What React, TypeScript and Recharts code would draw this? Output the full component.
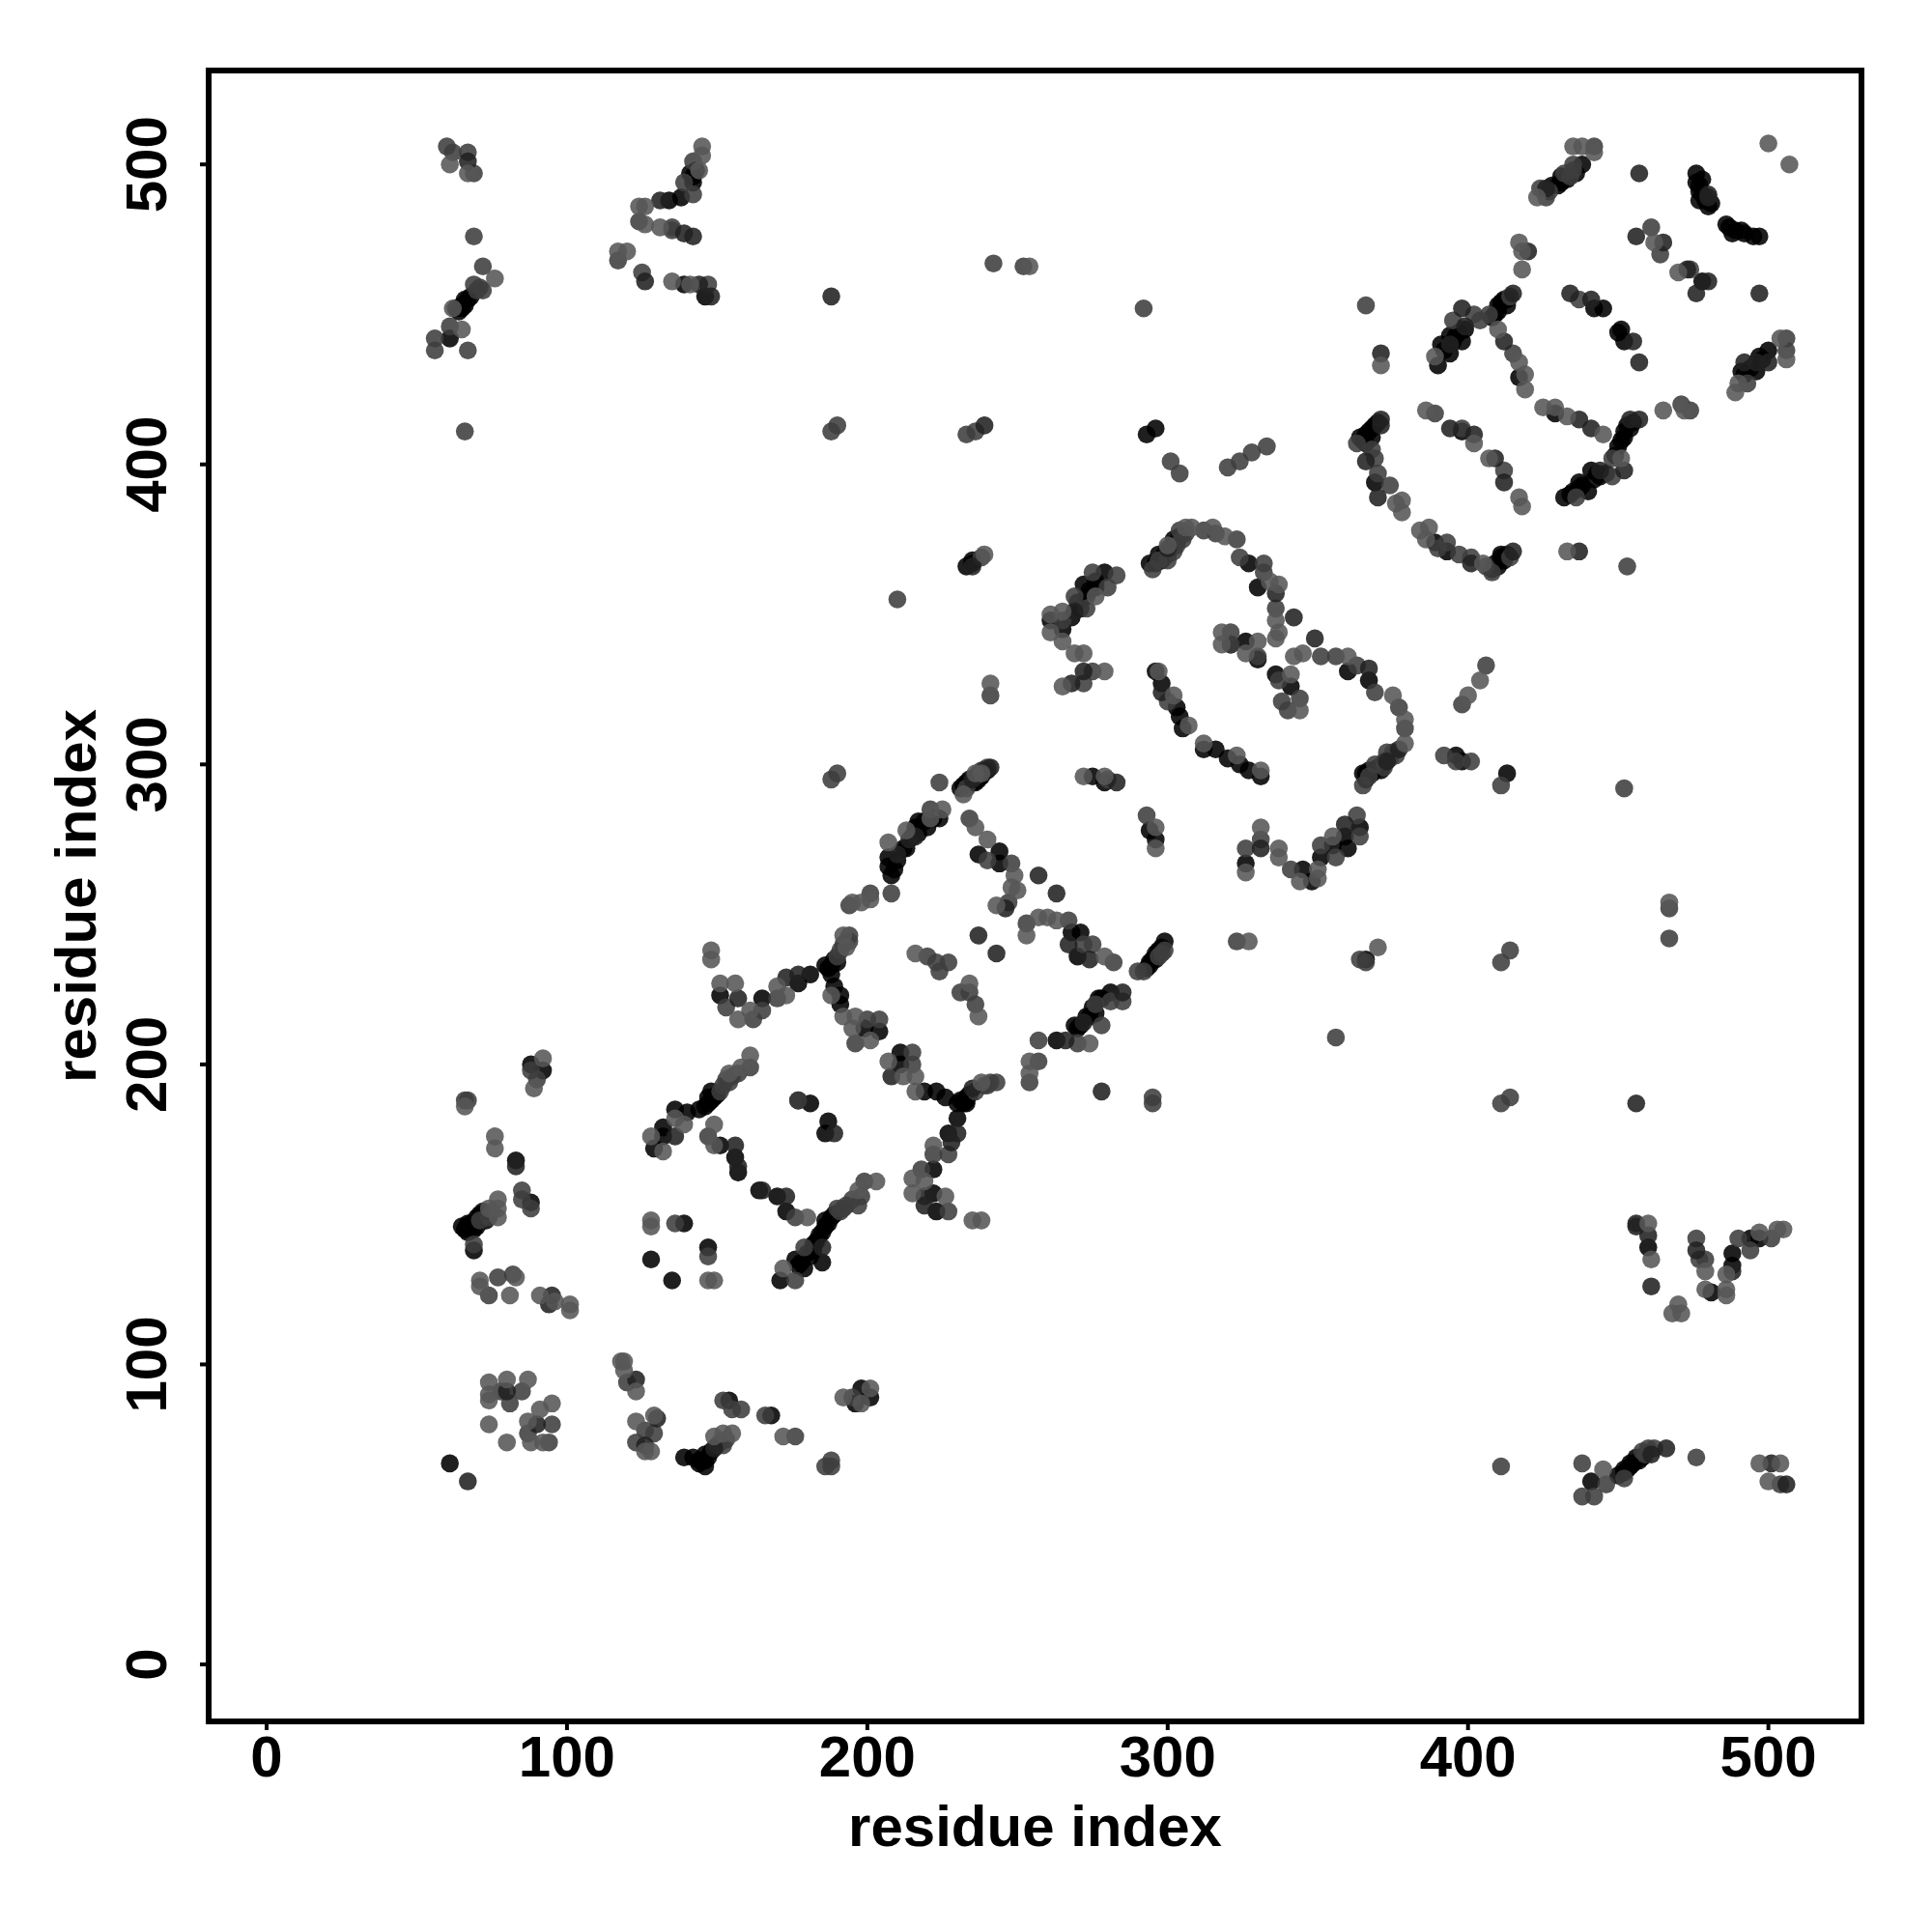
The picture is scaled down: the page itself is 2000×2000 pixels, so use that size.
import { Label, ReferenceArea, Scatter, ScatterChart, XAxis, YAxis } from 'recharts';

// contact pairs [residue x, residue y], grouped by grey level
type Pair = [number, number];

const lightPairs: Pair[] = [
  [232,290],[236,297],[238,297],[272,296],[279,296],[213,278],[207,274],[221,282],[225,285],[236,279],[240,275],[249,263],[248,259],[250,258],[243,253],[201,255],[198,254],[195,254],[257,249],[260,249],[263,248],[253,243],[279,236],[216,237],[234,227],[237,216],[148,238],[148,235],[151,227],[156,227],[157,215],[161,218],[170,226],[173,223],[193,239],[192,243],[188,223],[192,216],[196,216],[195,212],[201,208],[207,201],[216,196],[212,196],[216,191],[238,194],[274,207],[254,201],[254,197],[222,173],[215,162],[219,161],[215,157],[226,156],[235,148],[238,148],
  [161,203],[158,199],[154,197],[136,182],[139,180],[128,176],[132,171],[149,180],[149,173],[180,149],[203,161],[197,158],[172,132],[128,148],[128,146],[147,128],[149,128],[92,202],[89,192],[66,186],[76,176],[76,172],[77,155],[77,152],[74,152],[77,149],[71,128],[71,126],[83,129],[81,123],[91,123],[96,121],[101,120],[101,118],[119,101],[118,101],[119,98],[123,91],[129,83],[123,81],[128,71],[126,71],[155,77],[152,77],[149,76],[172,76],[201,92],[192,89],[198,87],[74,94],[80,95],[87,95],[74,90],[74,88],[95,87],[91,85],[87,81],[74,80],[88,74],[80,74],[92,74],
  [61,500],[67,497],[76,462],[62,452],[65,445],[145,506],[145,503],[144,498],[124,486],[126,486],[126,480],[131,479],[117,471],[120,471],[135,461],[141,460],
  [435,506],[438,506],[442,504],[423,489],[500,507],[507,500],[462,474],[470,464],[504,442],[506,435],[490,427],[489,424],[389,436],[371,433],[417,474],[418,471],[418,465],[410,445],[417,434],[419,430],[419,425],[386,418],[402,407],[407,402],[417,389],[418,386],[425,419],[429,419],[433,416],[445,410],[465,418],[472,418],[451,402],[433,371],[378,388],[378,384],[376,387],[384,378],[387,379],[386,375],[405,367],
  [239,370],[276,356],[265,351],[261,350],[261,344],[265,341],[269,337],[272,337],[279,331],[265,326],[241,327],[306,379],[308,379],[315,379],[319,376],[300,373],[334,361],[337,360],[336,348],[337,344],[336,342],[318,344],[318,340],[330,341],[326,337],[297,331],[302,323],[307,313],[312,307],[323,303],[331,298],[342,336],[345,337],[360,336],[375,323],[379,315],[379,307],[341,330],[344,318],[326,264],[331,279],[337,272],[337,269],[344,261],[350,262],[350,265],[355,276],[327,241],[370,239],[296,272],[296,279],[400,323],[404,328],[254,466],[467,254],
  [460,147],[461,135],[470,120],[468,117],[471,117],[479,131],[479,125],[486,125],[486,123],[486,130],[497,144],[505,145],[503,145],[445,65],[497,67],[504,67],[500,61],
];

const midPairs: Pair[] = [
  [188,295],[190,297],[224,294],[236,296],[237,297],[280,295],[221,285],[208,257],[201,257],[194,253],[234,282],[247,254],[240,268],[248,267],[253,247],[267,248],[272,240],[275,240],[282,234],[220,236],[223,234],[227,234],[224,231],[231,224],[234,224],[236,220],[153,219],[162,215],[165,218],[170,222],[190,236],[194,243],[200,215],[204,215],[196,207],[215,204],[215,200],[243,194],[257,208],[270,207],[278,213],[281,221],[285,221],[257,201],[254,194],[295,189],[295,187],[227,170],[222,170],[218,165],[227,151],
  [161,199],[154,194],[151,191],[176,149],[199,161],[197,153],[193,153],[191,151],[179,139],[176,128],[177,188],[136,147],[147,136],[88,198],[90,195],[67,188],[66,188],[85,158],[85,155],[88,152],[71,148],[69,140],[74,123],[77,129],[82,130],[120,94],[126,78],[129,77],[123,74],[152,88],[155,85],[158,85],[166,83],[176,76],[152,73],[188,68],[186,66],[188,66],[195,89],[78,91],[85,91],[81,87],[95,80],[87,77],[94,74],[147,176],
  [60,506],[62,504],[67,504],[69,497],[69,476],[72,466],[72,458],[69,460],[61,446],[56,442],[56,438],[67,438],[66,411],[142,501],[139,494],[142,490],[135,479],[135,478],[124,481],[117,468],[125,464],[147,460],[188,411],[190,413],
  [442,506],[435,500],[434,496],[424,492],[426,489],[461,479],[464,470],[474,465],[506,442],[506,438],[493,427],[407,450],[402,450],[395,448],[415,437],[437,455],[389,417],[398,412],[412,398],[471,420],[474,418],[448,402],[448,396],[436,389],[453,366],[366,453],[363,407],[368,405],[369,402],[370,397],[374,393],[393,374],[390,372],[397,370],[401,369],[408,364],
  [283,363],[275,364],[280,359],[269,356],[273,352],[265,348],[275,331],[272,327],[241,323],[295,365],[300,368],[303,373],[312,378],[316,377],[323,375],[324,369],[332,367],[332,364],[336,352],[321,344],[321,340],[330,336],[300,321],[337,328],[344,322],[338,321],[340,318],[351,336],[356,336],[363,333],[369,324],[377,319],[379,312],[373,304],[369,300],[365,293],[326,272],[331,275],[341,265],[351,273],[356,269],[364,276],[363,283],[323,241],[364,235],[293,283],[290,231],
  [392,303],[396,301],[401,301],[398,320],[406,333],[411,293],[366,234],[411,234],[414,238],[411,187],[414,189],[467,242],[467,252],[452,292],[242,467],[252,466],[292,452],[233,410],[236,411],[210,355],[356,209],[301,401],[304,397],[320,399],[324,401],[328,404],[333,406],[238,369],
  [476,142],[479,135],[477,135],[490,142],[494,138],[501,142],[411,66],[438,67],[438,56],[442,56],[446,60],[452,62],[458,71],[476,69],[504,60],
  // denser stretches of the bands
  [238,298],[240,299],[233,292],[297,368],[302,371],[305,375],[306,377],[304,378],[298,237],[299,238],[297,236],[292,231],[372,301],[374,302],[375,304],[376,303],[367,296],[372,299],[414,456],[404,448],[414,369],[406,366],[152,193],[155,196],[157,197],[153,195],[190,152],[192,152],[195,155],[198,156],[236,191],[239,193],[240,193],[241,194],[191,238],[192,240],[193,241],[194,241],[276,220],[427,491],[432,497],[435,498],[459,70],[460,72],[462,72],[150,73],[151,74],[153,75],[70,458],[71,459],[74,149],[75,151],
];

const darkPairs: Pair[] = [
  [235,295],[239,298],[241,299],[283,294],[210,270],[214,275],[216,276],[246,252],[257,263],[263,257],[267,240],[274,235],[237,243],[243,237],[157,222],[173,229],[177,230],[208,196],[235,192],[230,177],[228,174],[219,156],[219,153],[266,208],[285,224],[278,191],[272,214],
  [136,176],[156,173],[157,166],[165,158],[173,156],[185,139],[189,177],[83,166],[95,123],[94,120],[123,95],[130,82],[126,73],[149,72],[67,61],[80,91],[90,80],
  [67,501],[126,461],[131,488],[139,477],[142,476],[144,460],[148,456],[188,456],
  [426,492],[457,497],[480,489],[456,476],[465,474],[473,465],[480,461],[476,457],[497,457],[500,434],[496,434],[492,434],[420,471],[415,457],[398,452],[399,446],[394,440],[371,437],[412,441],[434,457],[441,455],[455,441],[457,434],[394,412],[402,410],[409,402],[412,394],[437,415],[441,412],[454,415],[457,415],[452,398],[444,398],[437,371],[371,415],[366,401],[370,389],[415,371],[401,367],
  [235,366],[269,351],[272,331],[268,327],[300,372],[336,357],[342,349],[349,342],[298,324],[367,332],[377,305],[331,272],[359,280],[456,187],[239,413],
  [456,147],[456,146],[460,143],[461,126],[476,138],[488,131],[461,70],[466,72],[501,67],[506,60],
  // denser stretches of the bands
  [373,301],[371,413],[480,490],
];

const blackPairs: Pair[] = [
  [231,292],[232,293],[233,294],[234,295],[240,298],[275,296],[279,294],[208,263],[207,266],[207,269],[212,272],[217,281],[217,277],[220,279],[224,282],[237,270],[244,271],[244,267],[268,244],[271,244],[270,236],[151,223],[165,222],[177,227],[181,230],[186,233],[189,235],[188,230],[189,226],[191,223],[191,220],[204,211],[199,212],[211,204],[211,200],[219,191],[223,191],[226,189],[230,187],[233,189],[230,182],[227,177],[222,165],[222,157],[223,151],[263,208],[269,213],[273,216],[276,217],[277,222],[281,224],[233,187],
  [148,188],[146,186],[147,189],[136,185],[140,184],[132,179],[132,176],[129,172],[151,173],[156,169],[157,164],[164,158],[170,156],[173,151],[188,149],[186,146],[185,144],[185,134],[182,140],[176,135],[179,132],[171,128],[177,188],[181,187],[187,181],[186,177],[139,147],[128,135],[135,128],[147,139],[92,198],[88,200],[83,168],[88,154],[72,151],[70,149],[67,147],[66,145],[69,145],[69,138],[154,88],[168,83],[146,70],[147,69],[146,66],[144,68],[142,69],[139,69],[198,92],[201,89],[196,87],[61,67],
  [66,455],[65,453],[63,452],[61,442],[141,497],[142,494],[138,489],[134,488],[139,460],[146,456],
  [438,500],[431,496],[430,493],[476,497],[476,494],[477,491],[480,486],[477,488],[486,480],[491,478],[495,476],[497,476],[478,461],[500,438],[492,430],[496,431],[412,455],[410,453],[409,450],[396,443],[394,443],[398,441],[391,440],[394,437],[390,433],[417,429],[445,452],[442,452],[451,445],[450,444],[452,441],[429,417],[451,408],[452,411],[441,398],[444,396],[437,394],[440,391],[432,389],[368,412],[366,410],[364,409],[369,394],[389,374],[393,371],[409,367],[411,370],[398,411],
  [235,367],[279,364],[276,359],[272,360],[273,356],[261,348],[265,345],[294,367],[296,367],[297,370],[302,375],[304,376],[327,367],[330,359],[321,340],[326,341],[330,335],[296,331],[298,327],[303,319],[304,316],[305,312],[312,305],[316,305],[320,302],[324,300],[327,298],[331,296],[360,331],[367,328],[367,298],[365,297],[336,330],[341,326],[326,267],[345,265],[348,261],[351,269],[355,273],[359,276],[360,272],[364,279],[294,278],[296,275],[366,235],[372,300],
  [396,303],[398,301],[413,297],[293,410],[296,412],[233,366],[235,368],[293,232],[296,237],[299,241],[294,234],
  [460,139],[481,124],[488,133],[488,137],[494,142],[497,142],[441,61],[452,65],[454,67],[456,69],
  // denser stretches of the bands
  [235,294],[236,295],[237,295],[238,296],[236,294],[298,368],[299,370],[300,370],[301,372],[303,374],[295,235],[297,238],[298,239],[294,233],[296,235],[366,295],[368,297],[370,299],[371,298],[369,298],[366,297],[411,454],[413,455],[408,449],[410,451],[413,453],[397,444],[399,445],[392,438],[395,441],[367,411],[369,413],[370,414],[365,408],[366,407],[368,409],[410,366],[412,368],[413,370],[408,365],[411,369],[147,187],[149,189],[150,190],[144,185],[148,191],[187,147],[189,150],[184,143],[186,148],[180,137],[182,138],[177,133],[178,134],[183,141],[181,136],[210,268],[213,272],[215,276],[219,281],[222,282],[209,265],[216,279],[231,188],[232,187],[234,190],[233,188],[187,232],[188,233],[190,234],[271,213],[274,216],[270,212],[275,219],[278,222],[270,354],[274,358],[268,349],[271,352],[276,361],[428,493],[431,494],[436,497],[433,495],[477,493],[478,490],[479,488],[481,487],[478,495],[487,479],[489,478],[492,477],[488,477],[494,432],[497,436],[491,431],[498,435],[435,391],[438,393],[442,395],[446,397],[437,392],[434,390],[443,397],[449,403],[452,409],[454,412],[450,406],[453,413],[455,414],[453,65],[455,67],[457,68],[450,63],[452,64],[454,66],[458,69],[145,68],[148,71],[144,67],[146,68],[65,452],[67,455],[68,456],[64,451],[66,453],[68,147],[71,150],[65,146],[67,144],[70,146],[73,148],[142,496],[143,498],
];

const TICKS = [0, 100, 200, 300, 400, 500];
const X_DOMAIN: [number, number] = [-19.3, 531];
const Y_DOMAIN: [number, number] = [-19, 531.3];

const FONT = '"Liberation Sans", Arial, sans-serif';
const toPoints = (pairs: Pair[]) => pairs.map(([x, y]) => ({ x, y }));

function Dot({ cx, cy, fill }: any) {
  return <circle cx={cx} cy={cy} r={9.3} fill={fill} fillOpacity={0.88} />;
}

function BottomTick({ x, y, payload }: any) {
  return (
    <text x={x} y={y + 48} textAnchor="middle" fontFamily={FONT} fontWeight={700} fontSize={60} fill="#000">
      {payload.value}
    </text>
  );
}

function LeftTick({ x, y, payload }: any) {
  const bx = x - 35;
  return (
    <text
      x={bx}
      y={y}
      transform={`rotate(-90 ${bx} ${y})`}
      textAnchor="middle"
      fontFamily={FONT}
      fontWeight={700}
      fontSize={60}
      fill="#000"
    >
      {payload.value}
    </text>
  );
}

const LABEL_STYLE = { fontFamily: FONT, fontWeight: 700, fontSize: 60, fill: '#000' };

export default function App() {
  return (
    <div style={{ position: 'absolute', left: 0, top: 0, width: 2000, height: 2000, background: '#fff' }}>
      <ScatterChart width={2000} height={2000} margin={{ top: 73, right: 73, bottom: 0, left: 0 }}>
        <XAxis
          type="number"
          dataKey="x"
          domain={X_DOMAIN}
          ticks={TICKS}
          height={218}
          axisLine={false}
          tickLine={{ stroke: '#000', strokeWidth: 4 }}
          tickSize={9}
          tickMargin={0}
          tick={<BottomTick />}
          interval={0}
          allowDataOverflow
        >
          <Label value="residue index" position="insideBottom" offset={89} style={LABEL_STYLE} />
        </XAxis>
        <YAxis
          type="number"
          dataKey="y"
          domain={Y_DOMAIN}
          ticks={TICKS}
          width={216}
          axisLine={false}
          tickLine={{ stroke: '#000', strokeWidth: 4 }}
          tickSize={9}
          tickMargin={0}
          tick={<LeftTick />}
          interval={0}
          allowDataOverflow
        >
          <Label value="residue index" angle={-90} position="insideLeft" offset={78} style={{ ...LABEL_STYLE, textAnchor: 'middle' }} />
        </YAxis>
        <ReferenceArea
          x1={X_DOMAIN[0]}
          x2={X_DOMAIN[1]}
          y1={Y_DOMAIN[0]}
          y2={Y_DOMAIN[1]}
          fill="none"
          stroke="#000"
          strokeWidth={6}
        />
        <Scatter data={toPoints(blackPairs)} fill="#000000" shape={<Dot />} isAnimationActive={false} />
        <Scatter data={toPoints(midPairs)} fill="#3e3e3e" shape={<Dot />} isAnimationActive={false} />
        <Scatter data={toPoints(darkPairs)} fill="#212121" shape={<Dot />} isAnimationActive={false} />
        <Scatter data={toPoints(lightPairs)} fill="#575757" shape={<Dot />} isAnimationActive={false} />
      </ScatterChart>
    </div>
  );
}
